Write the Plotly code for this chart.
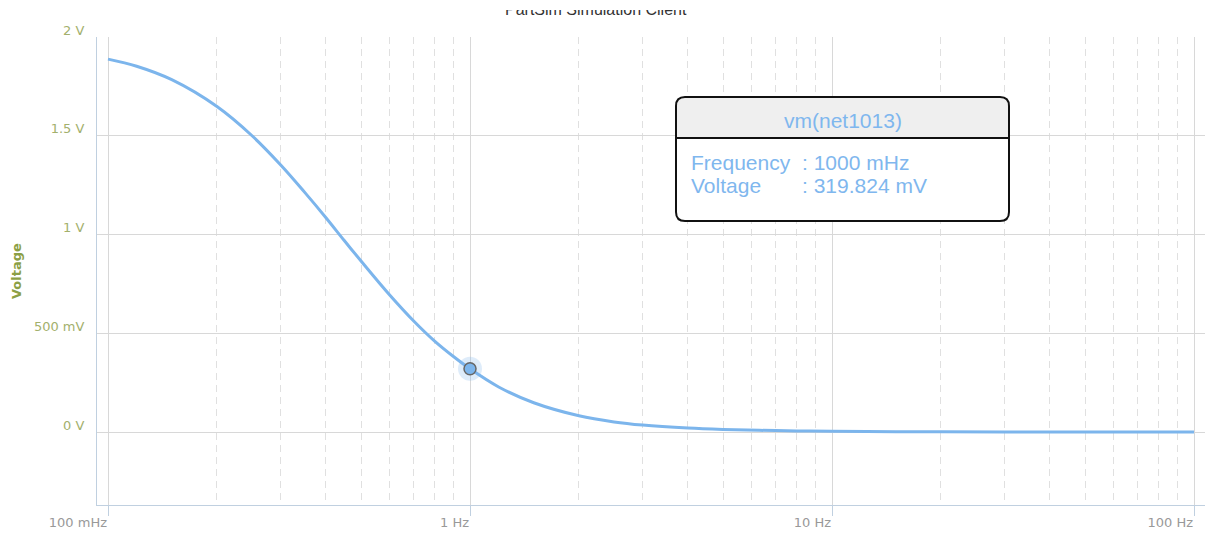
import plotly.graph_objects as go

# Frequency response of vm(net1013): frequency in Hz, magnitude in volts
freq_hz = [0.1, 0.12, 0.15, 0.2, 0.25, 0.3, 0.35, 0.4, 0.45, 0.5, 0.6, 0.7, 0.8,
           0.9, 1.0, 1.2, 1.5, 2.0, 2.5, 3.0, 4.0, 5.0, 6.3, 8.0, 10.0,
           15.0, 20.0, 30.0, 50.0, 100.0]
volt_v = [1.888, 1.852, 1.784, 1.648, 1.500, 1.352, 1.212, 1.085, 0.968, 0.866,
          0.694, 0.561, 0.459, 0.382, 0.319824, 0.228, 0.148, 0.082, 0.051, 0.035,
          0.020, 0.013, 0.0085, 0.0055, 0.0037, 0.0018, 0.001, 0.0005, 0.0002, 0.0001]

# Highlighted sample shown in the tooltip
sel_freq = 1.0
sel_volt = 0.319824
series_name = "vm(net1013)"
chart_title = "PartSim Simulation Client"

# Axis ticks
x_tickvals = [0.1, 1, 10, 100]
x_ticktext = ["100 mHz", "1 Hz", "10 Hz", "100 Hz"]
x_minor = [m * d for d in (0.1, 1, 10) for m in range(2, 10)]
y_tickvals = [0, 0.5, 1, 1.5, 2]
y_ticktext = ["0 V", "500 mV", "1 V", "1.5 V", "2 V"]

W, H = 1209, 535
L, R, T, B = 97, 4, 37, 30
PW, PH = W - L - R, H - T - B

LINE_BLUE = "#7cb5ec"
AXIS_BLUE = "#c0d0e0"
GRID = "#d8d8d8"
OLIVE = "#a3b06c"
OLIVE_DARK = "#8c9f45"


def px(xp):
    return (xp - L) / PW


def py(yp):
    return (H - B - yp) / PH


fig = go.Figure()

fig.add_trace(go.Scatter(
    x=freq_hz, y=volt_v, mode="lines", line=dict(color=LINE_BLUE, width=3, shape="spline"),
    hoverinfo="skip", showlegend=False,
))
# halo and marker for the selected sample
fig.add_trace(go.Scatter(
    x=[sel_freq], y=[sel_volt], mode="markers",
    marker=dict(size=24, color="rgba(124,181,236,0.25)", line=dict(width=0)),
    hoverinfo="skip", showlegend=False,
))
fig.add_trace(go.Scatter(
    x=[sel_freq], y=[sel_volt], mode="markers",
    marker=dict(size=12, color=LINE_BLUE, line=dict(color="#666666", width=1.5)),
    hoverinfo="skip", showlegend=False,
))

fig.update_xaxes(
    type="log", range=[-1 - 11 / 362, 2 + 11 / 362],
    tickvals=x_tickvals, ticktext=x_ticktext, ticklabelposition="outside left",
    ticks="outside", ticklen=10, tickcolor=AXIS_BLUE, tickwidth=1,
    ticklabelstandoff=5,
    showline=True, linecolor=AXIS_BLUE, linewidth=1,
    showgrid=True, gridcolor=GRID, gridwidth=1, zeroline=False,
    tickfont=dict(family="DejaVu Sans", size=13, color="#999999"),
    minor=dict(tickvals=x_minor, showgrid=True, gridcolor="#e0e0e0", griddash="7px,5px",
               gridwidth=1, ticks=""),
)
fig.update_yaxes(
    range=[-73 / 197.5, 2.0],
    tickvals=y_tickvals, ticktext=y_ticktext, ticks="",
    showline=True, linecolor=AXIS_BLUE, linewidth=1,
    showgrid=True, gridcolor=GRID, gridwidth=1, zeroline=False,
    ticklabelshift=-7, ticklabelstandoff=9,
    tickfont=dict(family="DejaVu Sans", size=13, color=OLIVE),
)

# tooltip box
bx0, bx1, by0, by1, hy = 676, 1009, 97, 221, 138
r = 9
rx, ry = r / PW, r / PH
X0, X1, Y0, Y1, HY = px(bx0), px(bx1), py(by0), py(by1), py(hy)


def rounded(x0, x1, ytop, ybot, bottom_round=True):
    p = f"M {x0 + rx},{ytop} L {x1 - rx},{ytop} Q {x1},{ytop} {x1},{ytop - ry} "
    if bottom_round:
        p += (f"L {x1},{ybot + ry} Q {x1},{ybot} {x1 - rx},{ybot} "
              f"L {x0 + rx},{ybot} Q {x0},{ybot} {x0},{ybot + ry} ")
    else:
        p += f"L {x1},{ybot} L {x0},{ybot} "
    p += f"L {x0},{ytop - ry} Q {x0},{ytop} {x0 + rx},{ytop} Z"
    return p


shapes = [
    dict(type="path", xref="paper", yref="paper", path=rounded(X0, X1, Y0, Y1),
         fillcolor="white", line=dict(width=0), layer="above"),
    dict(type="path", xref="paper", yref="paper", path=rounded(X0, X1, Y0, HY, False),
         fillcolor="#efefef", line=dict(width=0), layer="above"),
    dict(type="line", xref="paper", yref="paper", x0=X0, x1=X1, y0=HY, y1=HY,
         line=dict(color="#111111", width=2), layer="above"),
    dict(type="path", xref="paper", yref="paper", path=rounded(X0, X1, Y0, Y1),
         fillcolor="rgba(0,0,0,0)", line=dict(color="#111111", width=2), layer="above"),
]

tip_font = dict(family="Liberation Sans, Arial", size=21, color="#7fb7ee")
annotations = [
    dict(text=chart_title, xref="paper", yref="paper",
         x=px(596), y=py(10), xanchor="center", yanchor="middle", showarrow=False,
         font=dict(family="Liberation Sans, Arial", size=16, color="#333333")),
    # white band over the upper part of the title
    dict(text="&#160;", xref="paper", yref="paper", x=px(596), y=py(0), xanchor="center",
         yanchor="top", showarrow=False, width=260, height=10, bgcolor="white",
         borderpad=0, borderwidth=0, font=dict(size=6)),
    dict(text="<b>Voltage</b>", xref="paper", yref="paper", x=px(16), y=0.5,
         xanchor="center", yanchor="middle", textangle=-90, showarrow=False,
         font=dict(family="DejaVu Sans", size=13, color=OLIVE_DARK)),
    dict(text=series_name, xref="paper", yref="paper", x=(X0 + X1) / 2, y=py(120),
         xanchor="center", yanchor="middle", showarrow=False, font=tip_font),
    dict(text="Frequency", xref="paper", yref="paper", x=px(689), y=py(162),
         xanchor="left", yanchor="middle", showarrow=False, font=tip_font),
    dict(text=f": {sel_freq * 1000:g} mHz", xref="paper", yref="paper", x=px(800), y=py(162),
         xanchor="left", yanchor="middle", showarrow=False, font=tip_font),
    dict(text="Voltage", xref="paper", yref="paper", x=px(689), y=py(185),
         xanchor="left", yanchor="middle", showarrow=False, font=tip_font),
    dict(text=f": {sel_volt * 1000:.3f} mV", xref="paper", yref="paper", x=px(800), y=py(185),
         xanchor="left", yanchor="middle", showarrow=False, font=tip_font),
]

fig.update_layout(
    width=W, height=H, autosize=False,
    margin=dict(l=L, r=R, t=T, b=B, pad=0),
    paper_bgcolor="white", plot_bgcolor="white",
    shapes=shapes, annotations=annotations, showlegend=False,
)

fig.write_html("out.html")
